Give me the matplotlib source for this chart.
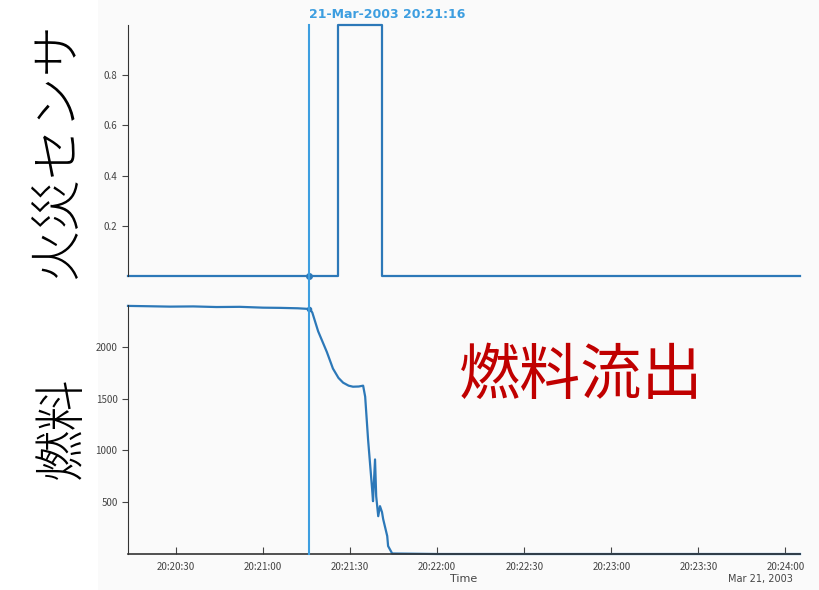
import numpy as np
import matplotlib.pyplot as plt
import matplotlib.dates as mdates
import matplotlib.transforms as mtransforms
from datetime import datetime, timedelta

plt.rcParams['font.family'] = ['Noto Sans CJK JP', 'DejaVu Sans']

t0 = datetime(2003, 3, 21, 20, 21, 0)

# fire sensor (seconds relative to 20:21:00)
fire_sec = [-46.5, 26, 26, 41, 41, 185]
fire_val = [0, 0, 1, 1, 0, 0]

# fuel level (seconds relative to 20:21:00)
fuel_sec = [-46.5, -40, -32, -24, -16, -8, 0, 6, 12, 16.2, 17.0, 18.0, 19.0, 20.5, 22.0, 24.1,
            26.0, 27.6, 29.5, 31.0, 33.0, 34.5, 35.2, 36.2, 37.6, 37.9, 38.6, 39.0, 39.7,
            40.3, 41.0, 41.4, 42.8, 43.1, 44.5, 60, 120, 185]
fuel_val = [2395, 2392, 2388, 2390, 2384, 2386, 2378, 2376, 2372, 2365, 2330, 2240, 2150, 2050,
            1950, 1790, 1700, 1654, 1625, 1615, 1617, 1625, 1519, 1106, 625, 510, 913, 558, 365,
            462, 404, 337, 173, 77, 5, 0, 0, 0]

cursor_sec = 16
cursor_fuel = 2365
cursor_label = '21-Mar-2003 20:21:16'

fire_t = [t0 + timedelta(seconds=s) for s in fire_sec]
fuel_t = [t0 + timedelta(seconds=s) for s in fuel_sec]
cur_t = t0 + timedelta(seconds=cursor_sec)

line_c = '#2c78b8'
cur_c = '#3d9ee0'
tick_c = '#444444'

fig = plt.figure(figsize=(8.19, 5.90), dpi=100, facecolor='#fafafa')
fig.patches.append(plt.Rectangle((0, 0), 0.12, 1, transform=fig.transFigure,
                                 facecolor='white', edgecolor='none', zorder=-1))

ax1 = fig.add_axes([0.1563, 0.5322, 0.8205, 0.4254])
ax2 = fig.add_axes([0.1563, 0.0610, 0.8205, 0.4221], sharex=ax1)
for ax in (ax1, ax2):
    ax.set_facecolor('none')
    ax.spines['top'].set_visible(False)
    ax.spines['right'].set_visible(False)
    ax.spines['left'].set_color('#333333')
    ax.tick_params(axis='y', direction='out', length=4, labelsize=7, colors=tick_c)

# top panel: fire sensor
ax1.plot(fire_t, fire_val, color=line_c, lw=1.6, clip_on=False)
ax1.plot([cur_t], [0], 'o', color=line_c, ms=4, clip_on=False)
ax1.set_ylim(0, 1)
ax1.set_yticks([0.2, 0.4, 0.6, 0.8])
ax1.set_yticklabels(['0.2', '0.4', '0.6', '0.8'])
ax1.spines['bottom'].set_visible(False)
ax1.tick_params(axis='x', bottom=False, labelbottom=False)

# bottom panel: fuel
ax2.plot(fuel_t, fuel_val, color=line_c, lw=1.6, clip_on=False)
ax2.plot([cur_t], [cursor_fuel], 'o', color=line_c, ms=3, clip_on=False)
ax2.set_ylim(0, 2404)
ax2.set_yticks([500, 1000, 1500, 2000])
ax2.spines['bottom'].set_color('#333333')
ax2.spines['bottom'].set_linewidth(1.2)
ax2.set_xlim(t0 + timedelta(seconds=-46.5), t0 + timedelta(seconds=185))
ax2.xaxis.set_major_locator(mdates.SecondLocator(bysecond=[0, 30]))
ax2.xaxis.set_major_formatter(mdates.DateFormatter('%H:%M:%S'))
ax2.tick_params(axis='x', direction='in', length=5, labelsize=7, colors=tick_c, pad=6)
ax2.set_xlabel('Time', fontsize=8, color=tick_c, labelpad=1, family='DejaVu Sans')
fig.text(0.928, 0.0135, 'Mar 21, 2003', fontsize=7, color=tick_c, ha='center',
         family='DejaVu Sans')

# data cursor across both panels
trans = mtransforms.blended_transform_factory(ax2.transData, fig.transFigure)
fig.lines.append(plt.Line2D([mdates.date2num(cur_t)] * 2, [0.061, 0.958], transform=trans,
                            color=cur_c, lw=1.5))
fig.text(mdates.date2num(cur_t), 0.975, cursor_label, transform=trans, ha='left',
         va='center', fontsize=9, fontweight='bold', color=cur_c, family='DejaVu Sans')

# annotations
fig.text(0.071, 0.745, '火災センサ', rotation=90, fontsize=37, fontweight='light',
         ha='center', va='center')
fig.text(0.076, 0.275, '燃料', rotation=90, fontsize=37, fontweight='light',
         ha='center', va='center')
fig.text(0.71, 0.362, '燃料流出', fontsize=44, color='#c00000',
         ha='center', va='center')

plt.savefig('out.png', dpi=100, facecolor=fig.get_facecolor())
